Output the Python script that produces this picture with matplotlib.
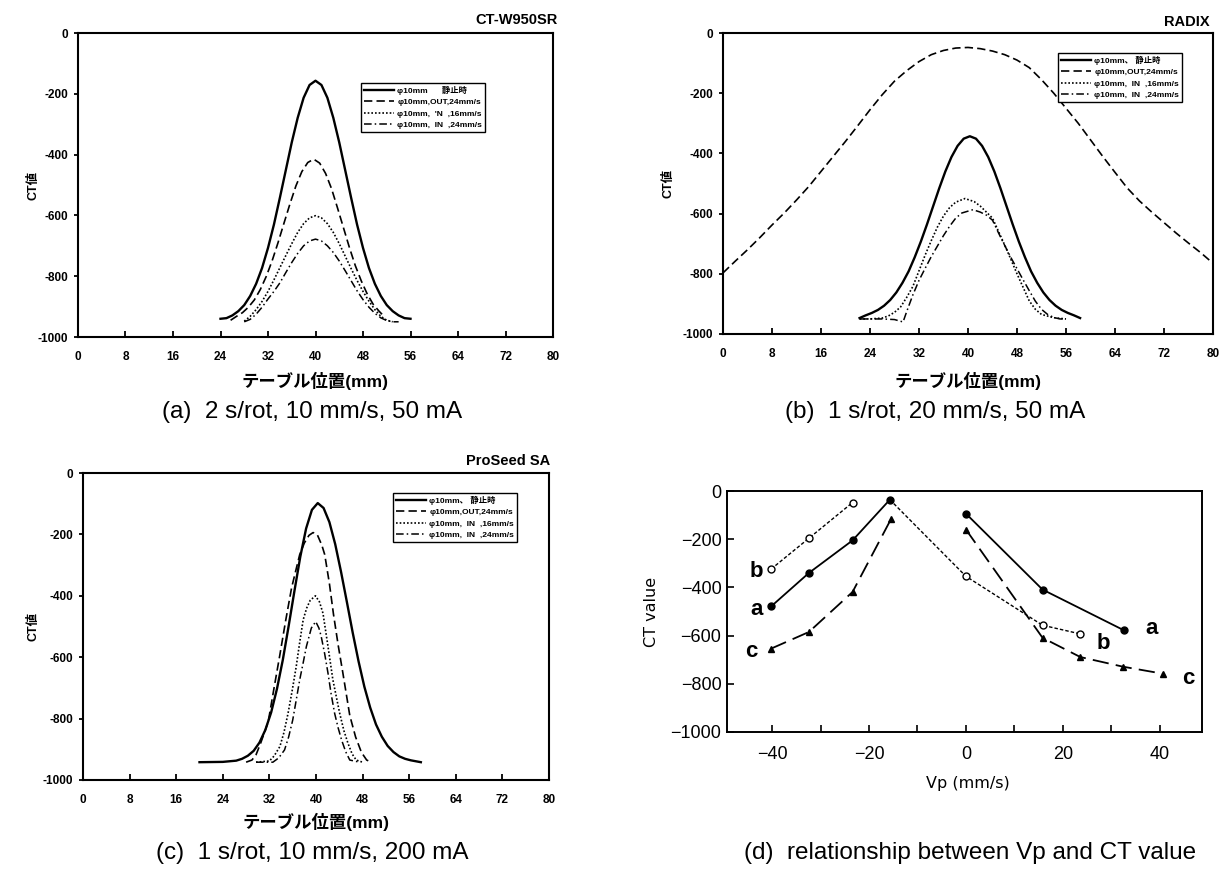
import matplotlib
matplotlib.use("Agg")
import matplotlib.pyplot as plt

plt.rcParams['font.family'] = ['Liberation Sans', 'Noto Sans CJK JP']
plt.rcParams['axes.unicode_minus'] = False

FIG_W, FIG_H = 1232, 872

# ---------------- (a) CT-W950SR ----------------
a_static_x = list(range(24, 57))
a_static_y = [-940, -938, -929, -915, -895, -865, -825, -773, -707, -630, -542, -451, -360, -279, -213, -171,
              -157,
              -171, -213, -279, -360, -451, -542, -630, -707, -773, -825, -865, -895, -915, -929, -938, -940]
a_out_x = [25.7, 26.7, 27.7, 28.7, 29.7, 30.7, 31.7, 32.7, 33.7, 34.7, 35.7, 36.7, 37.7, 38.7,
           39.7, 40.7, 41.7, 42.7, 43.7, 44.7, 45.7, 46.7, 47.7, 48.7, 49.7, 50.7, 51.7]
a_out_y = [-945, -932, -920, -902, -878, -844, -801, -749, -689, -625, -562, -503, -456, -426,
           -415, -428, -462, -512, -575, -640, -705, -765, -815, -858, -892, -915, -935]
a_in16_x = list(range(28, 54))
a_in16_y = [-948, -932, -910, -883, -850, -812, -772, -732, -693, -656, -627, -608, -601,
            -608, -627, -656, -693, -734, -775, -814, -850, -882, -910, -932, -945, -950]
a_in24_x = list(range(28, 55))
a_in24_y = [-950, -942, -925, -902, -875, -850, -822, -788, -755, -725, -700, -684, -678,
            -684, -700, -722, -750, -782, -815, -848, -877, -902, -922, -937, -946, -950, -950]

# ---------------- (b) RADIX ----------------
b_static_x = [22.3 + i for i in range(37)]
b_static_y = [-947, -938, -930, -920, -906, -887, -862, -830, -792, -745, -693, -636, -576, -516, -460, -412, -375, -351,
              -343,
              -351, -375, -412, -460, -516, -576, -636, -693, -745, -792, -830, -862, -887, -906, -920, -930, -938, -947]
b_out_x = list(range(0, 81, 2))
b_out_y = [-797, -758, -720, -680, -638, -598, -555, -510, -460, -410, -360, -308, -255, -205, -160, -125, -95, -72,
           -58, -50, -48, -52, -60, -72, -90, -115, -155, -200, -250, -300, -355, -410, -463, -515, -558, -595,
           -630, -665, -698, -730, -765]
b_in16_x = [22.3, 24, 26, 27, 28, 29, 30, 31, 32, 33, 34, 35, 36, 37, 38, 39.5, 41, 42, 43, 44, 45, 46, 47, 48,
            49, 50, 51, 52, 54, 56]
b_in16_y = [-950, -950, -947, -940, -928, -910, -878, -842, -790, -738, -690, -645, -608, -580, -562, -550, -560,
            -575, -595, -615, -660, -705, -752, -800, -845, -890, -918, -935, -946, -950]
b_in24_x = [22.3, 24, 26, 28, 29.4, 30, 31, 32, 33, 34, 35, 36, 37, 38, 39, 40.8, 42, 43, 44, 45, 46, 47, 48, 49,
            50, 51, 52, 53, 54, 55, 56]
b_in24_y = [-950, -950, -950, -952, -960, -925, -870, -822, -782, -743, -708, -673, -642, -615, -598, -587, -595,
            -605, -622, -665, -706, -746, -783, -820, -856, -891, -918, -935, -945, -950, -950]

# ---------------- (c) ProSeed SA ----------------
c_static_x = [20, 24, 26.3, 27.3, 28.3, 29.3, 30.3, 31.3, 32.3, 33.3, 34.3, 35.3, 36.3, 37.3, 38.3, 39.3, 40.3,
              41.3, 42.3, 43.3, 44.3, 45.3, 46.3, 47.3, 48.3, 49.3, 50.3, 51.3, 52.3, 53.3, 54.3, 55.3, 56.3, 58]
c_static_y = [-942, -941, -937, -931, -921, -905, -878, -837, -780, -703, -609, -499, -384, -273, -181, -120, -98,
              -114, -160, -232, -322, -420, -520, -613, -696, -764, -819, -859, -889, -909, -923, -931, -936, -942]
c_out_x = [28, 29, 29.7, 30.5, 31.8, 32.8, 33.8, 34.8, 35.8, 36.5, 37.2, 38, 38.8, 39.5, 40.2, 41, 41.5, 42.3,
           43, 43.8, 44.6, 45.8, 46.8, 47.8, 48.7, 49.5]
c_out_y = [-942, -935, -918, -880, -810, -700, -592, -480, -375, -320, -266, -228, -203, -194, -200, -235, -266,
           -360, -460, -560, -650, -790, -860, -910, -935, -942]
c_in16_x = [29.7, 32, 32.8, 33.8, 34.5, 35.2, 35.9, 36.6, 37.2, 37.8, 38.4, 39, 39.9, 40.6, 41.2, 42.06, 42.9,
            44.07, 44.8, 45.5, 46.2, 46.9, 48]
c_in16_y = [-942, -938, -922, -891, -845, -783, -710, -631, -552, -478, -440, -415, -400, -420, -457, -565, -674,
            -783, -840, -881, -915, -935, -942]
c_in24_x = [29.7, 32.6, 33.6, 34.6, 35.3, 36.0, 36.6, 37.2, 37.8, 38.35, 39.2, 39.95, 40.5, 40.9, 41.5, 42.06,
            42.6, 43.2, 43.8, 44.4, 45.1, 45.8, 47.5]
c_in24_y = [-942, -942, -928, -902, -860, -805, -740, -674, -618, -565, -505, -484, -505, -533, -590, -652, -720,
            -783, -830, -870, -908, -935, -942]

# ---------------- (d) Vp vs CT value ----------------
d_a_left_x = [-40.2, -32.4, -23.4, -15.7]
d_a_left_y = [-479, -340, -205, -36]
d_a_right_x = [0, 15.8, 32.6]
d_a_right_y = [-94, -409, -578]
d_b_left_x = [-40.2, -32.4, -23.4]
d_b_left_y = [-324, -196, -48]
d_b_right_x = [-15.7, 0, 15.8, 23.6]
d_b_right_y = [-36, -354, -557, -593]
d_c_left_x = [-40.2, -32.4, -23.4, -15.5]
d_c_left_y = [-654, -585, -419, -118]
d_c_right_x = [0, 15.8, 23.6, 32.4, 40.6]
d_c_right_y = [-160, -609, -689, -729, -758]

x_ticks_mm = [0, 8, 16, 24, 32, 40, 48, 56, 64, 72, 80]
y_ticks_ct = [0, -200, -400, -600, -800, -1000]
d_x_major = [-40, -20, 0, 20, 40]
d_x_minor = [-30, -10, 10, 30]

labels_a = ['φ10mm      静止時', 'φ10mm,OUT,24mm/s', "φ10mm,  'N  ,16mm/s", 'φ10mm,  IN  ,24mm/s']
labels_bc = ['φ10mm、 静止時', 'φ10mm,OUT,24mm/s', 'φ10mm,  IN  ,16mm/s', 'φ10mm,  IN  ,24mm/s']

line_styles = [
    dict(linestyle='-', linewidth=1.7),
    dict(linestyle=(0, (5, 2.5)), linewidth=1.2),
    dict(linestyle=(0, (1, 1.2)), linewidth=1.2),
    dict(linestyle=(0, (5, 2, 1, 2)), linewidth=1.1),
]


def rect_from_px(left, top, right, bottom):
    return [left / FIG_W, 1 - bottom / FIG_H, (right - left) / FIG_W, (bottom - top) / FIG_H]


def fig_text(fig, x, y, s, **kw):
    fig.text(x / FIG_W, 1 - y / FIG_H, s, **kw)


def draw_profile_panel(fig, box, curves, labels, legend_px, name, name_px, caption, caption_px,
                       xlabel_y, ylabel_x):
    left, top, right, bottom = box
    ax = fig.add_axes(rect_from_px(left, top, right, bottom))
    for (xs, ys), style in zip(curves, line_styles):
        ax.plot(xs, ys, color='black', **style)
    ax.set_xlim(0, 80)
    ax.set_ylim(-1000, 0)
    ax.set_xticks(x_ticks_mm)
    ax.set_xticklabels([str(v) for v in x_ticks_mm], fontsize=8.5, fontweight='bold')
    ax.set_yticks(y_ticks_ct)
    ax.set_yticklabels([str(v) for v in y_ticks_ct], fontsize=8.5, fontweight='bold')
    ax.tick_params(axis='x', direction='in', length=4, width=1.3, pad=10)
    ax.tick_params(axis='y', direction='out', length=3, width=1.3, pad=4)
    for sp in ax.spines.values():
        sp.set_linewidth(1.5)

    lx = (legend_px[0] - left) / (right - left)
    ly = 1 - (legend_px[1] - top) / (bottom - top)
    leg = ax.legend(labels, loc='upper left', bbox_to_anchor=(lx, ly), borderaxespad=0,
                    prop={'family': ['Liberation Sans', 'Noto Sans CJK JP'], 'size': 6.0, 'weight': 'bold'},
                    frameon=True, fancybox=False, framealpha=1, edgecolor='black',
                    handlelength=3.6, handletextpad=0.4, labelspacing=0.42, borderpad=0.35)
    leg.get_frame().set_linewidth(1.0)

    fig_text(fig, name_px[0], name_px[1], name, ha='right', va='center', fontsize=10.5, fontweight='bold')
    fig_text(fig, (left + right) / 2, xlabel_y, 'テーブル位置(mm)', ha='center', va='center',
             fontsize=12.5, fontweight='bold')
    fig_text(fig, ylabel_x, (top + bottom) / 2, 'CT値', ha='center', va='center', rotation=90,
             fontsize=9, fontweight='bold')
    fig_text(fig, caption_px[0], caption_px[1], caption, ha='center', va='center', fontsize=17.5)
    return ax


fig = plt.figure(figsize=(FIG_W / 100, FIG_H / 100), dpi=100)

draw_profile_panel(fig, (78, 33, 553, 337),
                   [(a_static_x, a_static_y), (a_out_x, a_out_y), (a_in16_x, a_in16_y), (a_in24_x, a_in24_y)],
                   labels_a, (361, 83), 'CT-W950SR', (558, 20),
                   '(a)  2 s/rot, 10 mm/s, 50 mA', (312, 412), 381, 33)

draw_profile_panel(fig, (723, 33, 1213, 334),
                   [(b_static_x, b_static_y), (b_out_x, b_out_y), (b_in16_x, b_in16_y), (b_in24_x, b_in24_y)],
                   labels_bc, (1058, 53), 'RADIX', (1210, 22),
                   '(b)  1 s/rot, 20 mm/s, 50 mA', (935, 412), 381, 668)

draw_profile_panel(fig, (83, 473, 549, 780),
                   [(c_static_x, c_static_y), (c_out_x, c_out_y), (c_in16_x, c_in16_y), (c_in24_x, c_in24_y)],
                   labels_bc, (393, 493), 'ProSeed SA', (550, 461),
                   '(c)  1 s/rot, 10 mm/s, 200 mA', (312, 853), 822, 33)

# ---- panel (d)
axd = fig.add_axes(rect_from_px(727, 491, 1202, 732))
axd.plot(d_a_left_x, d_a_left_y, color='black', lw=1.3, marker='o', ms=5)
axd.plot(d_a_right_x, d_a_right_y, color='black', lw=1.3, marker='o', ms=5)
axd.plot(d_b_left_x, d_b_left_y, color='black', lw=1.0, ls=(0, (2.5, 1.5)),
         marker='o', ms=5, mfc='white')
axd.plot(d_b_right_x, d_b_right_y, color='black', lw=1.0, ls=(0, (2.5, 1.5)),
         marker='o', ms=5, mfc='white', markevery=[1, 2, 3])
axd.plot(d_c_left_x, d_c_left_y, color='black', lw=1.3, ls=(0, (9, 4)), marker='^', ms=5)
axd.plot(d_c_right_x, d_c_right_y, color='black', lw=1.3, ls=(0, (9, 4)), marker='^', ms=5)

for (tx, ty, s) in [(-43.2, -336, 'b'), (-43.2, -491, 'a'), (-44.2, -664, 'c'),
                    (38.3, -571, 'a'), (28.3, -631, 'b'), (45.8, -779, 'c')]:
    axd.text(tx, ty, s, fontsize=16, fontweight='bold', ha='center', va='center')

axd.set_xlim(-49.3, 48.7)
axd.set_ylim(-1000, 0)
axd.set_xticks(d_x_major)
axd.set_xticks(d_x_minor, minor=True)
axd.set_xticklabels([str(v).replace('-', '\u2212') for v in d_x_major], fontsize=13)
axd.set_yticks(y_ticks_ct)
axd.set_yticklabels([str(v).replace('-', '\u2212') for v in y_ticks_ct], fontsize=13)
axd.tick_params(which='both', direction='in', length=5, width=1.2)
axd.tick_params(axis='x', pad=10)
axd.tick_params(axis='y', pad=4)
for sp in axd.spines.values():
    sp.set_linewidth(1.4)

fig_text(fig, 652, 612, 'CT value', ha='center', va='center', rotation=90, fontsize=11.5,
         family='DejaVu Sans')
fig_text(fig, 968, 783, 'Vp (mm/s)', ha='center', va='center', fontsize=11.5, family='DejaVu Sans')
fig_text(fig, 970, 853, '(d)  relationship between Vp and CT value', ha='center', va='center', fontsize=17.5)

fig.savefig('out.png', dpi=100)
